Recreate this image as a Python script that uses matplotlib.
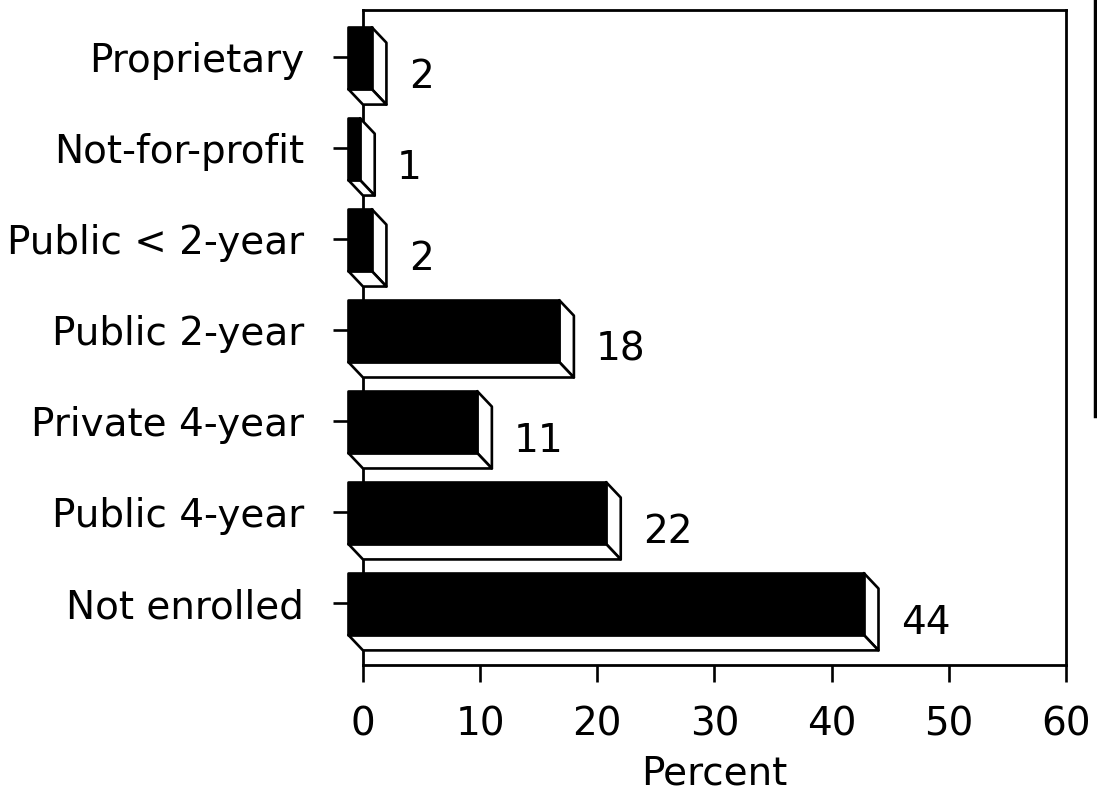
import numpy as np
import matplotlib.pyplot as plt
from matplotlib.patches import Polygon
from matplotlib.lines import Line2D

# data, bottom to top
categories = ["Not enrolled", "Public 4-year", "Private 4-year", "Public 2-year",
              "Public < 2-year", "Not-for-profit", "Proprietary"]
percent = [44, 22, 11, 18, 2, 1, 2]

# 3d look of the bars (data units)
dx = 1.25
dy = 0.17
top = 0.33
bot = -0.35

plt.rcParams['font.family'] = ['DejaVu Sans']

fig = plt.figure(figsize=(10.97, 7.92), dpi=100)
ax = fig.add_axes([0.3309, 0.1604, 0.6408, 0.8270])

for i, v in enumerate(percent):
    front = [(-dx, i + bot), (v - dx, i + bot), (v - dx, i + top), (-dx, i + top)]
    side = [(v - dx, i + top), (v, i + top - dy), (v, i + bot - dy), (v - dx, i + bot)]
    under = [(-dx, i + bot), (v - dx, i + bot), (v, i + bot - dy), (0, i + bot - dy)]
    for pts, fc in [(side, 'white'), (under, 'white'), (front, 'black')]:
        ax.add_patch(Polygon(pts, closed=True, facecolor=fc, edgecolor='black',
                             linewidth=1.9, joinstyle='round', zorder=3, clip_on=False))
    ax.annotate(str(v), xy=(v, i), xytext=(16, -14), textcoords='offset points',
                ha='left', va='center', fontsize=28)

ax.set_xlim(0, 60)
ax.set_ylim(-0.68, 6.52)
ax.set_xticks(range(0, 61, 10))
ax.set_yticks(range(len(categories)))
ax.set_yticklabels(categories)

ax.tick_params(axis='x', direction='out', length=12, width=1.9, pad=17, labelsize=28)
ax.tick_params(axis='y', direction='out', length=21.5, width=1.9, pad=21, labelsize=28)
for s in ax.spines.values():
    s.set_linewidth(2.0)

ax.set_xlabel("Percent", fontsize=28, labelpad=8)

# dark scan edge on the right side of the page
fig.add_artist(Line2D([0.998, 0.998], [1.0, 0.475], color='black', linewidth=2.5))

fig.savefig("out.png", dpi=100)
